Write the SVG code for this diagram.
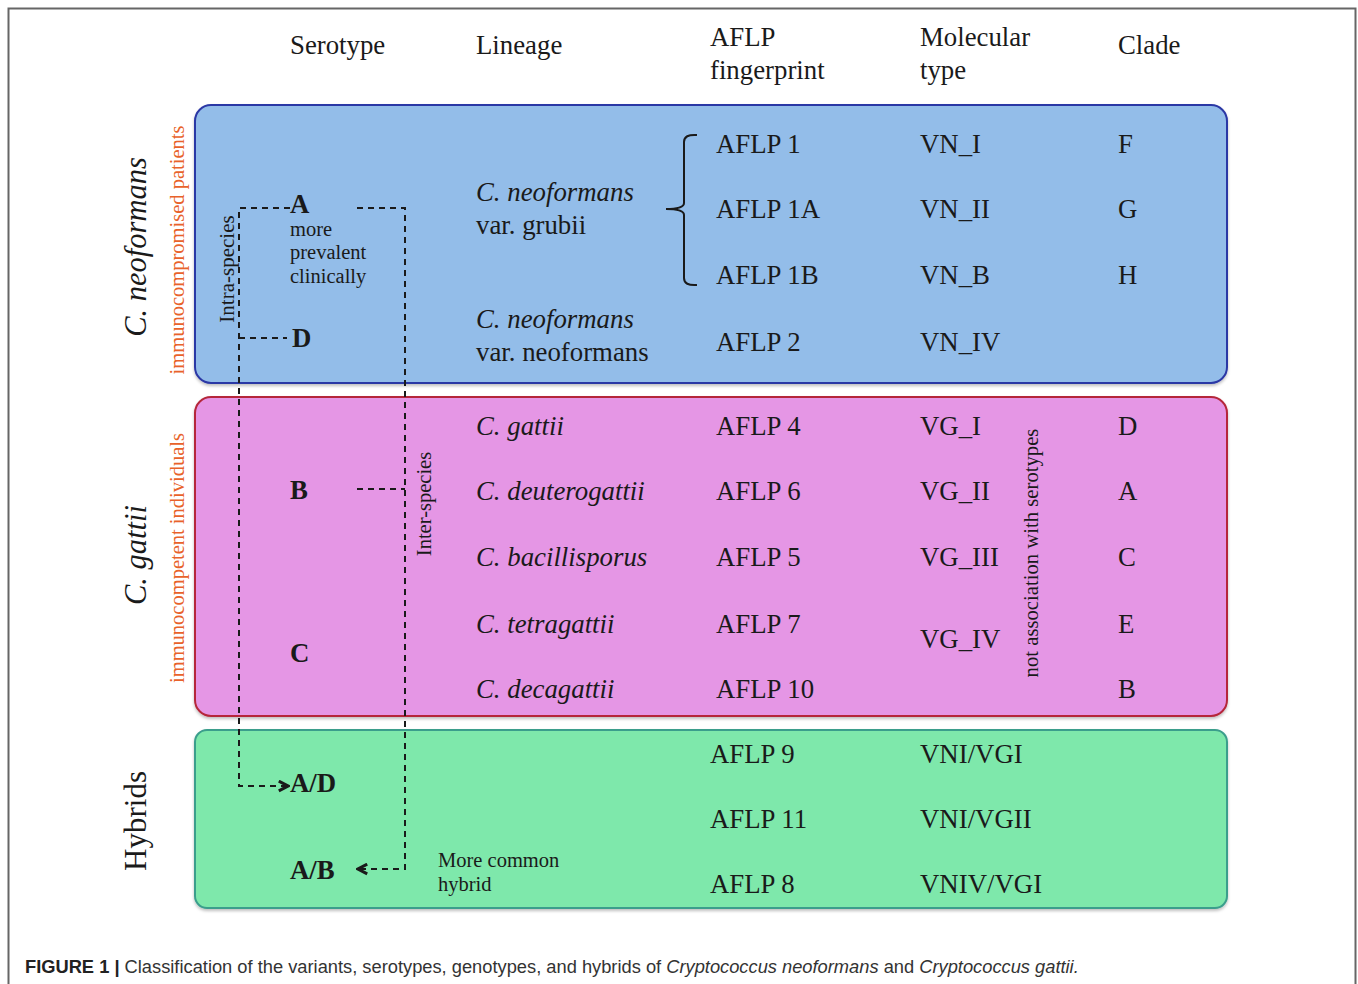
<svg xmlns="http://www.w3.org/2000/svg" width="1358" height="984" viewBox="0 0 1358 984">
<defs>
<style>
.t{font-family:"Liberation Serif","Times New Roman",serif;fill:#1a1a1a}
.h{font-size:26.8px}
.r{font-size:26.8px}
.i{font-style:italic}
.b{font-weight:bold}
.s{font-size:20.5px}
.o{fill:#e8622a}
.d{fill:none;stroke:#1a1a1a;stroke-width:2;stroke-dasharray:6,5}
.cap{font-family:"Liberation Sans",Arial,sans-serif;font-size:18.3px;fill:#333}
</style>
<marker id="ah" viewBox="0 0 12 12" refX="10" refY="6" markerWidth="13" markerHeight="13" markerUnits="userSpaceOnUse" orient="auto">
<path d="M1.5,1.5 L10,6 L1.5,10.5" fill="none" stroke="#1a1a1a" stroke-width="2.8"/>
</marker>
<filter id="sh" x="-5%" y="-5%" width="110%" height="115%"><feDropShadow dx="0" dy="2" stdDeviation="1.5" flood-color="#000" flood-opacity="0.25"/></filter>
</defs>
<rect width="1358" height="984" fill="#fff"/>
<path d="M8.5,984 V8.5 H1355.5 V984" fill="none" stroke="#666" stroke-width="2"/>

<g id="headers" class="t h">
<text x="290" y="54">Serotype</text>
<text x="476" y="54">Lineage</text>
<text x="710" y="46">AFLP</text>
<text x="710" y="79">fingerprint</text>
<text x="920" y="46">Molecular</text>
<text x="920" y="79">type</text>
<text x="1118" y="54">Clade</text>
</g>

<g id="neoformans">
<rect x="195" y="105" width="1032" height="278" rx="16" fill="#93bde9" stroke="#2c37a5" stroke-width="2" filter="url(#sh)"/>
<text class="t i" font-size="30.5" transform="translate(146,247) rotate(-90)" text-anchor="middle">C. neoformans</text>
<text class="t o" font-size="20.5" transform="translate(184,250) rotate(-90)" text-anchor="middle">immunocompromised patients</text>
<text class="t" font-size="21" transform="translate(234,269) rotate(-90)" text-anchor="middle">Intra-species</text>
<text class="t r b" x="290" y="213">A</text>
<text class="t s" x="290" y="236">more</text>
<text class="t s" x="290" y="259">prevalent</text>
<text class="t s" x="290" y="283">clinically</text>
<text class="t r b" x="292" y="347">D</text>
<text class="t r i" x="476" y="201">C. neoformans</text>
<text class="t r" x="476" y="234">var. grubii</text>
<text class="t r i" x="476" y="328">C. neoformans</text>
<text class="t r" x="476" y="361">var. neoformans</text>
<path d="M697,135 Q684,134 684,142 V203 Q684,209 666,209 Q684,209 684,215 V278 Q684,286 697,285" fill="none" stroke="#1a1a1a" stroke-width="2"/>
<g class="t r">
<text x="716" y="153">AFLP 1</text><text x="920" y="153">VN_I</text><text x="1118" y="153">F</text>
<text x="716" y="218">AFLP 1A</text><text x="920" y="218">VN_II</text><text x="1118" y="218">G</text>
<text x="716" y="284">AFLP 1B</text><text x="920" y="284">VN_B</text><text x="1118" y="284">H</text>
<text x="716" y="351">AFLP 2</text><text x="920" y="351">VN_IV</text>
</g>
</g>

<g id="gattii">
<rect x="195" y="397" width="1032" height="319" rx="16" fill="#e596e5" stroke="#b5283b" stroke-width="2" filter="url(#sh)"/>
<text class="t i" font-size="30.5" transform="translate(146,555) rotate(-90)" text-anchor="middle">C. gattii</text>
<text class="t o" font-size="20.5" transform="translate(184,558) rotate(-90)" text-anchor="middle">immunocompetent individuals</text>
<text class="t" font-size="20.5" transform="translate(431,504) rotate(-90)" text-anchor="middle">Inter-species</text>
<text class="t" font-size="20.7" transform="translate(1038,553) rotate(-90)" text-anchor="middle">not association with serotypes</text>
<text class="t r b" x="290" y="499">B</text>
<text class="t r b" x="290" y="662">C</text>
<g class="t r">
<text class="i" x="476" y="435">C. gattii</text><text x="716" y="435">AFLP 4</text><text x="920" y="435">VG_I</text><text x="1118" y="435">D</text>
<text class="i" x="476" y="500">C. deuterogattii</text><text x="716" y="500">AFLP 6</text><text x="920" y="500">VG_II</text><text x="1118" y="500">A</text>
<text class="i" x="476" y="566">C. bacillisporus</text><text x="716" y="566">AFLP 5</text><text x="920" y="566">VG_III</text><text x="1118" y="566">C</text>
<text class="i" x="476" y="633">C. tetragattii</text><text x="716" y="633">AFLP 7</text><text x="920" y="648">VG_IV</text><text x="1118" y="633">E</text>
<text class="i" x="476" y="698">C. decagattii</text><text x="716" y="698">AFLP 10</text><text x="1118" y="698">B</text>
</g>
</g>

<g id="hybrids">
<rect x="195" y="730" width="1032" height="178" rx="12" fill="#7ee8ab" stroke="#3b9e8c" stroke-width="2" filter="url(#sh)"/>
<text class="t" font-size="31" transform="translate(146,821) rotate(-90)" text-anchor="middle">Hybrids</text>
<text class="t r b" x="290" y="792">A/D</text>
<text class="t r b" x="290" y="879">A/B</text>
<text class="t s" x="438" y="867">More common</text>
<text class="t s" x="438" y="891">hybrid</text>
<g class="t r">
<text x="710" y="763">AFLP 9</text><text x="920" y="763">VNI/VGI</text>
<text x="710" y="828">AFLP 11</text><text x="920" y="828">VNI/VGII</text>
<text x="710" y="893">AFLP 8</text><text x="920" y="893">VNIV/VGI</text>
</g>
</g>

<g id="connectors">
<path class="d" d="M290,208 H239 V786 H288" marker-end="url(#ah)"/>
<path class="d" d="M239,338 H287"/>
<path class="d" d="M357,208 H405 V869 H358" marker-end="url(#ah)"/>
<path class="d" d="M357,489 H405"/>
</g>

<g id="caption">
<text class="cap" x="25" y="973"><tspan font-weight="bold" fill="#222">FIGURE 1 |</tspan> Classification of the variants, serotypes, genotypes, and hybrids of <tspan font-style="italic">Cryptococcus neoformans</tspan> and <tspan font-style="italic">Cryptococcus gattii.</tspan></text>
</g>
</svg>
